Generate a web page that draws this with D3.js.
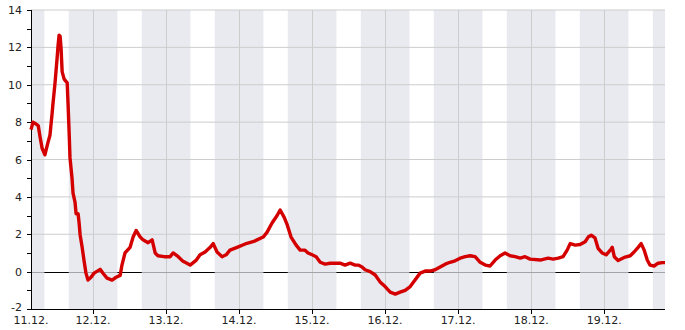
<!DOCTYPE html>
<html>
<head>
<meta charset="utf-8">
<script src="https://cdn.jsdelivr.net/npm/d3@7"></script>
<style>
  body { margin: 0; background: #fff; }
  text { font-family: "DejaVu Sans", sans-serif; font-size: 11px; fill: #222; }
</style>
</head>
<body>
<div id="viz"></div>
<script>
const width = 685;
const height = 330;
const margin = {top: 10, right: 20, bottom: 21, left: 31};

const times = [
  '11.12. 03:36', '11.12. 04:15', '11.12. 05:15', '11.12. 06:00', '11.12. 06:35', '11.12. 07:15',
  '11.12. 08:10', '11.12. 09:10', '11.12. 09:50', '11.12. 10:30', '11.12. 10:50', '11.12. 11:30',
  '11.12. 12:10', '11.12. 12:30', '11.12. 12:50', '11.12. 13:10', '11.12. 13:30', '11.12. 13:50',
  '11.12. 14:30', '11.12. 15:30', '11.12. 15:50', '11.12. 16:10', '11.12. 16:25', '11.12. 17:05',
  '11.12. 17:25', '11.12. 18:05', '11.12. 18:25', '11.12. 19:05', '11.12. 19:25', '11.12. 19:45',
  '11.12. 20:25', '11.12. 21:00', '11.12. 21:40', '11.12. 22:20', '11.12. 23:20', '12.12. 00:20',
  '12.12. 02:20', '12.12. 03:20', '12.12. 04:35', '12.12. 06:15', '12.12. 07:35', '12.12. 08:55',
  '12.12. 09:30', '12.12. 10:30', '12.12. 12:10', '12.12. 13:10', '12.12. 14:10', '12.12. 15:30',
  '12.12. 16:25', '12.12. 18:05', '12.12. 19:25', '12.12. 20:25', '12.12. 21:20', '12.12. 23:20',
  '13.12. 01:20', '13.12. 02:20', '13.12. 04:00', '13.12. 05:35', '13.12. 07:55', '13.12. 09:50',
  '13.12. 11:10', '13.12. 12:50', '13.12. 14:30', '13.12. 15:30', '13.12. 16:45', '13.12. 18:25',
  '13.12. 19:45', '13.12. 21:00', '13.12. 23:20', '14.12. 02:00', '14.12. 04:35', '14.12. 05:55',
  '14.12. 07:55', '14.12. 09:10', '14.12. 10:50', '14.12. 12:30', '14.12. 13:30', '14.12. 14:50',
  '14.12. 15:50', '14.12. 17:05', '14.12. 18:45', '14.12. 20:05', '14.12. 21:40', '14.12. 22:40',
  '15.12. 00:00', '15.12. 01:20', '15.12. 02:40', '15.12. 04:15', '15.12. 05:55', '15.12. 07:35',
  '15.12. 09:10', '15.12. 10:50', '15.12. 12:30', '15.12. 14:10', '15.12. 15:10', '15.12. 16:25',
  '15.12. 17:25', '15.12. 19:05', '15.12. 20:45', '15.12. 22:20', '16.12. 00:00', '16.12. 01:40',
  '16.12. 03:20', '16.12. 04:55', '16.12. 06:35', '16.12. 08:15', '16.12. 09:50', '16.12. 11:30',
  '16.12. 13:10', '16.12. 14:50', '16.12. 16:25', '16.12. 18:05', '16.12. 19:45', '16.12. 21:20',
  '16.12. 23:00', '17.12. 00:40', '17.12. 02:20', '17.12. 03:55', '17.12. 05:35', '17.12. 07:15',
  '17.12. 08:55', '17.12. 10:30', '17.12. 12:10', '17.12. 13:50', '17.12. 15:25', '17.12. 17:05',
  '17.12. 18:45', '17.12. 20:25', '17.12. 22:00', '17.12. 23:40', '18.12. 03:00', '18.12. 05:35',
  '18.12. 07:15', '18.12. 08:55', '18.12. 10:30', '18.12. 11:50', '18.12. 12:50', '18.12. 14:30',
  '18.12. 16:05', '18.12. 17:45', '18.12. 18:45', '18.12. 19:45', '18.12. 21:00', '18.12. 22:00',
  '18.12. 23:20', '19.12. 00:40', '19.12. 02:00', '19.12. 02:40', '19.12. 03:20', '19.12. 04:35',
  '19.12. 06:55', '19.12. 08:35', '19.12. 09:50', '19.12. 11:10', '19.12. 12:10', '19.12. 13:10',
  '19.12. 14:10', '19.12. 15:05', '19.12. 16:25', '19.12. 17:45', '19.12. 19:05', '19.12. 20:00'
];
const values = [
  7.6, 8.0, 7.9, 7.8, 7.2, 6.6,
  6.25, 6.9, 7.3, 8.4, 9.0, 10.1,
  11.4, 12.1, 12.65, 12.6, 11.9, 10.7,
  10.3, 10.1, 8.75, 7.3, 6.1, 5.0,
  4.2, 3.7, 3.1, 3.1, 2.6, 1.96,
  1.3, 0.62, -0.08, -0.45, -0.3, -0.08,
  0.12, -0.1, -0.35, -0.45, -0.3, -0.2,
  0.35, 1.0, 1.3, 1.85, 2.2, 1.85,
  1.7, 1.55, 1.7, 1.0, 0.85, 0.8,
  0.8, 1.0, 0.8, 0.55, 0.35, 0.6,
  0.9, 1.05, 1.3, 1.5, 1.05, 0.8,
  0.9, 1.15, 1.3, 1.48, 1.6, 1.7,
  1.85, 2.1, 2.6, 3.0, 3.3, 2.9,
  2.5, 1.85, 1.42, 1.15, 1.15, 1.0,
  0.9, 0.8, 0.5, 0.4, 0.45, 0.45,
  0.45, 0.35, 0.45, 0.35, 0.35, 0.25,
  0.1, 0.0, -0.18, -0.55, -0.8, -1.1,
  -1.2, -1.1, -1.0, -0.8, -0.45, -0.08,
  0.03, 0.03, 0.1, 0.25, 0.4, 0.5,
  0.58, 0.72, 0.8, 0.85, 0.8, 0.5,
  0.35, 0.3, 0.62, 0.85, 1.0, 0.85,
  0.8, 0.72, 0.8, 0.67, 0.62, 0.72,
  0.67, 0.72, 0.8, 1.15, 1.5, 1.42,
  1.45, 1.6, 1.85, 1.95, 1.8, 1.25,
  1.0, 0.9, 1.15, 1.3, 0.8, 0.6,
  0.78, 0.85, 1.05, 1.3, 1.5, 1.15,
  0.62, 0.35, 0.3, 0.45, 0.48, 0.48
];
const dayLabels = ['11.12.', '12.12.', '13.12.', '14.12.', '15.12.', '16.12.', '17.12.', '18.12.', '19.12.'];
const yTicks = [-2, 0, 2, 4, 6, 8, 10, 12, 14];
const nightFrom = 16; // shaded hours: 16:00 ... 08:00
const nightTo = 8;

const lineColor = '#d40000';
const bandColor = '#e9eaf0';
const gridColor = '#cdcdcd';

const parse = d3.timeParse('%d.%m. %H:%M');
const data = times.map((t, i) => ({date: parse(t), value: values[i]}));

const start = data[0].date;
const end = data[data.length - 1].date;

const x = d3.scaleTime()
  .domain([start, end])
  .range([margin.left, width - margin.right]);

const y = d3.scaleLinear()
  .domain([-2, 14])
  .range([height - margin.bottom, margin.top]);

const svg = d3.select('#viz')
  .append('svg')
    .attr('width', width)
    .attr('height', height);

// night bands
const days = d3.timeDay.range(d3.timeDay.offset(d3.timeDay.floor(start), -1), d3.timeDay.offset(end, 1));
const nights = days.map(d => [d3.timeHour.offset(d, nightFrom), d3.timeHour.offset(d, 24 + nightTo)]);
const clampX = t => Math.max(x.range()[0], Math.min(x.range()[1], x(t)));

svg.append('g')
  .selectAll('rect')
  .data(nights)
  .join('rect')
    .attr('x', d => clampX(d[0]))
    .attr('y', y(14))
    .attr('width', d => Math.max(0, clampX(d[1]) - clampX(d[0])))
    .attr('height', y(-2) - y(14))
    .attr('fill', bandColor);

// horizontal grid
svg.append('g')
  .selectAll('line')
  .data(yTicks.filter(v => v !== 0 && v !== -2))
  .join('line')
    .attr('x1', x.range()[0])
    .attr('x2', x.range()[1])
    .attr('y1', d => y(d))
    .attr('y2', d => y(d))
    .attr('stroke', gridColor);

// vertical grid at midnight
const midnights = d3.timeDay.range(d3.timeDay.ceil(start), end);
svg.append('g')
  .selectAll('line')
  .data(midnights)
  .join('line')
    .attr('x1', d => Math.round(x(d)) + 0.5)
    .attr('x2', d => Math.round(x(d)) + 0.5)
    .attr('y1', y(14))
    .attr('y2', y(-2))
    .attr('stroke', gridColor);

// zero line: grey inside bands, black in daytime
svg.append('line')
  .attr('x1', x.range()[0])
  .attr('x2', x.range()[1])
  .attr('y1', Math.round(y(0)) + 0.5)
  .attr('y2', Math.round(y(0)) + 0.5)
  .attr('stroke', '#a3a3a8');
svg.append('g')
  .selectAll('line')
  .data(days.map(d => [d3.timeHour.offset(d, nightTo), d3.timeHour.offset(d, nightFrom)]))
  .join('line')
    .attr('x1', d => clampX(d[0]))
    .attr('x2', d => clampX(d[1]))
    .attr('y1', Math.round(y(0)) + 0.5)
    .attr('y2', Math.round(y(0)) + 0.5)
    .attr('stroke', '#000');

// y axis
svg.append('line')
  .attr('x1', margin.left + 0.5)
  .attr('x2', margin.left + 0.5)
  .attr('y1', y(14))
  .attr('y2', y(-2))
  .attr('stroke', '#000');
svg.append('g')
  .selectAll('line')
  .data(d3.range(-2, 15))
  .join('line')
    .attr('x1', margin.left - 4)
    .attr('x2', margin.left)
    .attr('y1', d => Math.round(y(d)) + 0.5)
    .attr('y2', d => Math.round(y(d)) + 0.5)
    .attr('stroke', '#000');
svg.append('g')
  .selectAll('text')
  .data(yTicks)
  .join('text')
    .attr('x', margin.left - 9)
    .attr('y', d => y(d) + (d === -2 ? 2 : 4))
    .attr('text-anchor', 'end')
    .text(d => d);

// x axis
svg.append('line')
  .attr('x1', margin.left)
  .attr('x2', x.range()[1])
  .attr('y1', y(-2) + 0.5)
  .attr('y2', y(-2) + 0.5)
  .attr('stroke', '#000');
svg.append('g')
  .selectAll('line')
  .data(midnights)
  .join('line')
    .attr('x1', d => Math.round(x(d)) + 0.5)
    .attr('x2', d => Math.round(x(d)) + 0.5)
    .attr('y1', y(-2))
    .attr('y2', y(-2) + 5)
    .attr('stroke', '#000');
svg.append('g')
  .selectAll('text')
  .data(dayLabels)
  .join('text')
    .attr('x', d => clampX(parse(d + ' 00:00')))
    .attr('y', y(-2) + 15)
    .attr('text-anchor', 'middle')
    .text(d => d);

// the series
const line = d3.line()
  .x(d => x(d.date))
  .y(d => y(d.value));

svg.append('path')
  .datum(data)
  .attr('d', line)
  .attr('fill', 'none')
  .attr('stroke', lineColor)
  .attr('stroke-width', 3.4)
  .attr('stroke-linejoin', 'round');
</script>
</body>
</html>
